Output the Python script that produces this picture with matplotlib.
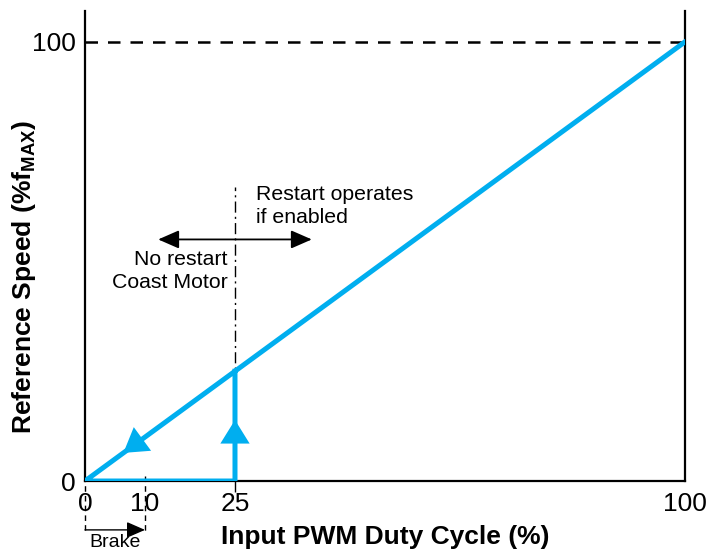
import matplotlib.pyplot as plt

plt.rcParams['font.family'] = ['Liberation Sans', 'DejaVu Sans']
plt.rcParams['mathtext.fontset'] = 'custom'
plt.rcParams['mathtext.rm'] = 'Liberation Sans'
plt.rcParams['mathtext.bf'] = 'Liberation Sans:bold'

# Speed curve: ramp down along the diagonal, then along 0 up to restart point
duty = [100, 0, 25, 25]
speed = [100, 0, 0, 25]

x_ticks = [0, 10, 25, 100]
y_ticks = [0, 100]

restart_duty = 25
brake_duty = 10
full_speed = 100

blue = '#00aeef'

fig = plt.figure(figsize=(7.22, 5.52), dpi=100)
ax = fig.add_axes([0.1177, 0.1286, 0.8311, 0.8514])

ax.plot(duty, speed, color=blue, lw=3.6, solid_joinstyle='miter', zorder=3)

# direction arrows on the curve
head = dict(arrowstyle='-|>,head_length=1.0,head_width=0.62',
            mutation_scale=17, color=blue, lw=0, shrinkA=0, shrinkB=0)
ax.annotate('', xy=(6.4, 6.4), xytext=(9.4, 9.4), arrowprops=head, zorder=4)
ax.annotate('', xy=(restart_duty, 13.9), xytext=(restart_duty, 8.9),
            arrowprops=head, zorder=4)

# 100 % reference
ax.plot([0, 100], [full_speed, full_speed], color='black', lw=1.8,
        dashes=(5, 4), zorder=2)

# restart threshold
ax.plot([restart_duty, restart_duty], [-2.5, 67], color='black', lw=1.0,
        dashes=(8, 3, 1.5, 3), clip_on=False, zorder=2)

# region arrow
ax.annotate('', xy=(12.2, 55), xytext=(37.8, 55),
            arrowprops=dict(arrowstyle='<|-|>,head_length=0.8,head_width=0.35',
                            mutation_scale=16, color='black', lw=1.3,
                            shrinkA=0, shrinkB=0))
ax.text(28.5, 67.4, 'Restart operates\nif enabled', ha='left', va='top',
        fontsize=15.3, linespacing=1.3)
ax.text(23.8, 52.7, 'No restart\nCoast Motor', ha='right', va='top',
        multialignment='right', fontsize=15.3, linespacing=1.3)

# brake range below the axis
trans = ax.get_xaxis_transform()
for xv in [0, brake_duty]:
    ax.plot([xv, xv], [0.01, -0.11], color='black', lw=1.0, dashes=(4, 3),
            transform=trans, clip_on=False)
ax.annotate('', xy=(brake_duty, -0.104), xytext=(0, -0.104),
            xycoords=trans, textcoords=trans,
            arrowprops=dict(arrowstyle='-|>,head_length=0.8,head_width=0.35',
                            mutation_scale=14, color='black', lw=1.0,
                            shrinkA=0, shrinkB=0))
ax.text(5, -0.131, 'Brake', transform=trans, ha='center', va='center',
        fontsize=14)

ax.set_xlim(0, 100)
ax.set_ylim(0, 107)
ax.set_xticks(x_ticks)
ax.set_yticks(y_ticks)
ax.tick_params(axis='x', length=0, pad=8, labelsize=19)
ax.tick_params(axis='y', length=0, pad=6.5, labelsize=19)

for side in ['left', 'right', 'bottom']:
    ax.spines[side].set_linewidth(1.6)
ax.spines['top'].set_visible(False)

ax.set_xlabel('Input PWM Duty Cycle (%)', fontsize=19, fontweight='bold',
              labelpad=6.5)
ax.set_ylabel(r'Reference Speed (%f$_{\mathbf{MAX}}$)', fontsize=19,
              fontweight='bold')
ax.yaxis.set_label_coords(-0.078, 0.434)

fig.savefig('out.png', dpi=100)
